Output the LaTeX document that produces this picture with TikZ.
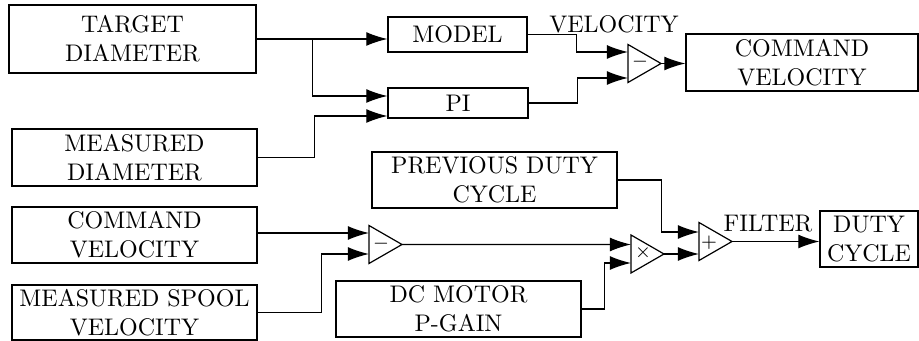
\documentclass[tikz,border=0pt]{standalone}
\usetikzlibrary{arrows.meta,shapes.geometric,calc}
\begin{document}
\begin{tikzpicture}[x=0.41667pt,y=-0.41667pt,
  box/.style={draw, line width=0.5pt, align=center, inner sep=0pt},
  tri/.style={draw, line width=0.5pt, isosceles triangle, isosceles triangle stretches,
    minimum width=15.83pt, minimum height=13.75pt, inner sep=0pt, outer sep=0pt, anchor=west},
  arr/.style={line width=0.5pt, -{Latex[length=8.8pt,width=5.8pt]}},
  sym/.style={font=\footnotesize, inner sep=0pt},
  lbl/.style={inner sep=0pt, anchor=base}]
\useasboundingbox (0,0) rectangle (919,341);
% boxes
\node[box, minimum width=102.92pt, minimum height=28.33pt] (target) at (132.5,39) {TARGET\\DIAMETER};
\node[box, minimum width=102.08pt, minimum height=23.75pt] (measdia) at (134.5,157.5) {MEASURED\\DIAMETER};
\node[box, minimum width=102.08pt, minimum height=23.33pt] (cmdvelL) at (134.5,235) {COMMAND\\VELOCITY};
\node[box, minimum width=102.08pt, minimum height=22.92pt] (spool) at (134.5,312.5) {MEASURED SPOOL\\VELOCITY};
\node[box, minimum width=57.92pt, minimum height=14.58pt] (model) at (457.5,34.5) {MODEL};
\node[box, minimum width=58.33pt, minimum height=12.5pt] (pi) at (458,103) {PI};
\node[box, minimum width=102.08pt, minimum height=23.33pt] (prev) at (494.5,180) {PREVIOUS DUTY\\CYCLE};
\node[box, minimum width=102.08pt, minimum height=23.33pt] (dcm) at (458.5,309) {DC MOTOR\\P-GAIN};
\node[box, minimum width=96.67pt, minimum height=23.75pt] (cmdvelR) at (802,62.5) {COMMAND\\VELOCITY};
\node[box, minimum width=40.83pt, minimum height=23.33pt] (duty) at (869,239) {DUTY\\CYCLE};
% triangles
\node[tri] (t1) at (628,63.5) {};
\node[tri] (t2) at (369,244.5) {};
\node[tri] (t3) at (631,254) {};
\node[tri] (t4) at (699,241.5) {};
\node[sym] (s1) at (640,62) {$-$};
\node[sym] (s2) at (381,244) {$-$};
\node[sym] (s3) at (643,253) {$\times$};
\node[sym] (s4) at (709,242.5) {$+$};
% labels
\node[lbl] (velbl) at (614,33) {VELOCITY};
\node[lbl] (filbl) at (768,232) {FILTER};
% input coordinates
\coordinate (pia) at ($(pi.west)+(0,-7)$);
\coordinate (pib) at ($(pi.west)+(0,13)$);
\coordinate (t1a) at ($(t1.west)+(0,-11.5)$);
\coordinate (t1b) at ($(t1.west)+(0,14.5)$);
\coordinate (t2a) at ($(t2.west)+(0,-11.5)$);
\coordinate (t2b) at ($(t2.west)+(0,9.5)$);
\coordinate (t3a) at ($(t3.west)+(0,-9.5)$);
\coordinate (t3b) at ($(t3.west)+(0,9)$);
\coordinate (t4a) at ($(t4.west)+(0,-9.5)$);
\coordinate (br1) at ($(target.east)+(56,0)$);
% connectors
\draw[arr] (target.east) -- (model.west |- target.east);
\draw[arr] (br1) |- (pia);
\draw[arr] (measdia.east) -- ++(57,0) |- (pib);
\draw[arr] (model.east) -- ++(49,0) |- (t1a);
\draw[arr] (pi.east) -- ++(49,0) |- (t1b);
\draw[arr] (t1.apex) -- (cmdvelR.west |- t1.apex);
\draw[arr] (cmdvelL.east |- t2a) -- (t2a);
\draw[arr] (spool.east) -- ++(64,0) |- (t2b);
\draw[arr] (t2.apex) -- (t3a);
\draw[arr] (dcm.east) -- ++(23,0) |- (t3b);
\draw[arr] (prev.east) -- ++(44,0) |- (t4a);
\draw[arr] (t3.apex) -- (t4.west |- t3.apex);
\draw[arr] (t4.apex) -- (duty.west |- t4.apex);
\end{tikzpicture}
\end{document}
